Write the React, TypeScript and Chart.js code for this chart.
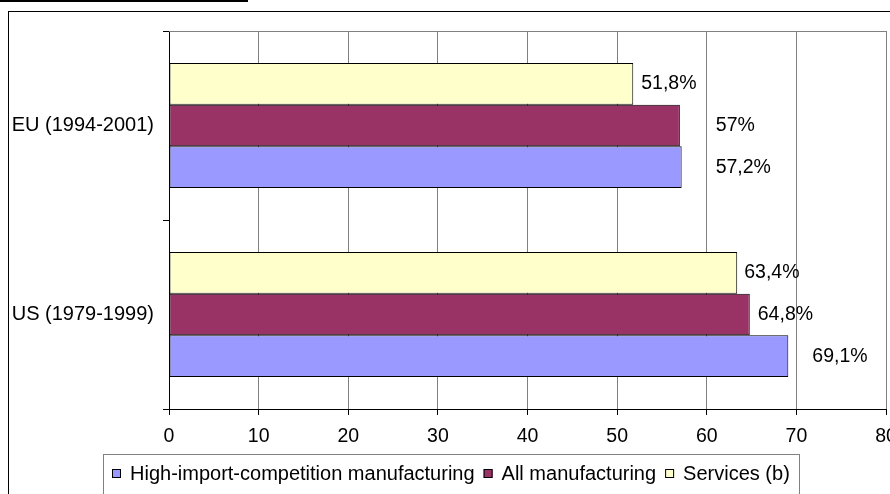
import React, { useEffect, useRef } from "react";
import { Chart, registerables } from "chart.js";

Chart.register(...registerables);

const categories = ["EU (1994-2001)", "US (1979-1999)"];
const seriesNames = ["Services (b)", "All manufacturing", "High-import-competition manufacturing"];
const servicesValues = [51.8, 63.4];
const allManufacturingValues = [57, 64.8];
const highImportValues = [57.2, 69.1];
const xTicks = [0, 10, 20, 30, 40, 50, 60, 70, 80];

const FONT = '"Liberation Sans", Arial, sans-serif';
const COLORS = ["#FFFFCC", "#993366", "#9999FF"];
// pixel nudges of the value labels (per dataset, per category)
const LABEL_NUDGE = [
  [8, 7],
  [36, 8],
  [34, 24],
];

const fmt = (v: number) => String(v).replace(".", ",") + "%";

const decorPlugin = {
  id: "decor",
  beforeDraw(chart: any) {
    const ctx = chart.ctx;
    ctx.save();
    ctx.fillStyle = "#ffffff";
    ctx.fillRect(0, 0, chart.width, chart.height);
    // outer border (extends beyond the picture)
    ctx.strokeStyle = "#000000";
    ctx.lineWidth = 1;
    ctx.strokeRect(8.5, 11.5, 2000, 2000);
    // underline of cut-off title
    ctx.fillStyle = "#000000";
    ctx.fillRect(0, 0, 248, 2);
    ctx.restore();
  },
  beforeDatasetsDraw(chart: any) {
    const ctx = chart.ctx;
    const a = chart.chartArea;
    ctx.save();
    ctx.strokeStyle = "#808080";
    ctx.lineWidth = 1;
    ctx.beginPath();
    ctx.moveTo(a.left, Math.round(a.top) + 0.5);
    ctx.lineTo(a.right, Math.round(a.top) + 0.5);
    ctx.stroke();
    ctx.restore();
  },
  afterDatasetsDraw(chart: any) {
    const ctx = chart.ctx;
    ctx.save();
    ctx.font = `19.5px ${FONT}`;
    ctx.fillStyle = "#000000";
    ctx.textAlign = "left";
    ctx.textBaseline = "middle";
    chart.data.datasets.forEach((ds: any, di: number) => {
      const meta = chart.getDatasetMeta(di);
      meta.data.forEach((el: any, i: number) => {
        ctx.fillText(fmt(ds.data[i]), el.x + LABEL_NUDGE[di][i], el.y);
      });
    });
    ctx.restore();
  },
  afterDraw(chart: any) {
    const ctx = chart.ctx;
    ctx.save();
    ctx.font = `20px ${FONT}`;
    // legend box
    const left = 103;
    const top = 454;
    const markerSize = 9;
    const gapMarkerText = 9;
    const gapItems = 9;
    const pad = 9;
    const ds = chart.data.datasets.slice().reverse();
    let w = pad * 2;
    ds.forEach((d: any, i: number) => {
      w += markerSize + gapMarkerText + ctx.measureText(d.label).width;
      if (i < ds.length - 1) w += gapItems;
    });
    ctx.strokeStyle = "#808080";
    ctx.lineWidth = 1;
    ctx.strokeRect(left + 0.5, top + 0.5, Math.round(w), 80);
    const cy = 474;
    let x = left + pad;
    ctx.textBaseline = "middle";
    ctx.textAlign = "left";
    ds.forEach((d: any) => {
      ctx.fillStyle = d.backgroundColor;
      ctx.fillRect(x, cy - 5, markerSize, markerSize);
      ctx.strokeStyle = "#000000";
      ctx.strokeRect(x + 0.5, cy - 4.5, markerSize - 1, markerSize - 1);
      x += markerSize + gapMarkerText;
      ctx.fillStyle = "#000000";
      ctx.fillText(d.label, x, cy);
      x += ctx.measureText(d.label).width + gapItems;
    });
    ctx.restore();
  },
};

export default function App() {
  const ref = useRef<HTMLCanvasElement>(null);
  useEffect(() => {
    if (!ref.current) return;
    const values = [servicesValues, allManufacturingValues, highImportValues];
    const chart = new Chart(ref.current, {
      type: "bar",
      data: {
        labels: categories,
        datasets: seriesNames.map((name, i) => ({
          label: name,
          data: values[i],
          backgroundColor: COLORS[i],
          borderColor: "#000000",
          borderWidth: 1,
          borderSkipped: false,
          categoryPercentage: 0.662,
          barPercentage: 1,
        })),
      },
      options: {
        indexAxis: "y",
        responsive: false,
        animation: false,
        events: [],
        layout: { padding: { top: 31, right: 4, left: 0, bottom: 40 } },
        plugins: {
          legend: { display: false },
          tooltip: { enabled: false },
          title: { display: false },
        },
        scales: {
          x: {
            type: "linear",
            min: 0,
            max: 80,
            afterBuildTicks: (s: any) => {
              s.ticks = xTicks.map((v) => ({ value: v }));
            },
            afterFit: (s: any) => {
              s.height = 45;
              s.paddingLeft = 0;
              s.paddingRight = 0;
            },
            grid: {
              color: "#808080",
              tickColor: "#000000",
              tickLength: 6,
              lineWidth: 1,
            },
            border: { color: "#000000", width: 1 },
            ticks: {
              font: { size: 19.5, family: FONT },
              color: "#000000",
              padding: 10,
              maxRotation: 0,
              autoSkip: false,
            },
          },
          y: {
            type: "category",
            afterFit: (s: any) => {
              s.width = 169;
            },
            grid: {
              drawOnChartArea: false,
              offset: true,
              tickColor: "#000000",
              tickLength: 6,
            },
            border: { color: "#000000", width: 1 },
            ticks: {
              font: { size: 20, family: FONT },
              color: "#000000",
              padding: 9,
            },
          },
        },
      },
      plugins: [decorPlugin],
    } as any);
    return () => chart.destroy();
  }, []);
  return (
    <div style={{ position: "absolute", left: 0, top: 0, width: 890, height: 494 }}>
      <canvas ref={ref} width={890} height={494} style={{ display: "block" }} />
    </div>
  );
}
